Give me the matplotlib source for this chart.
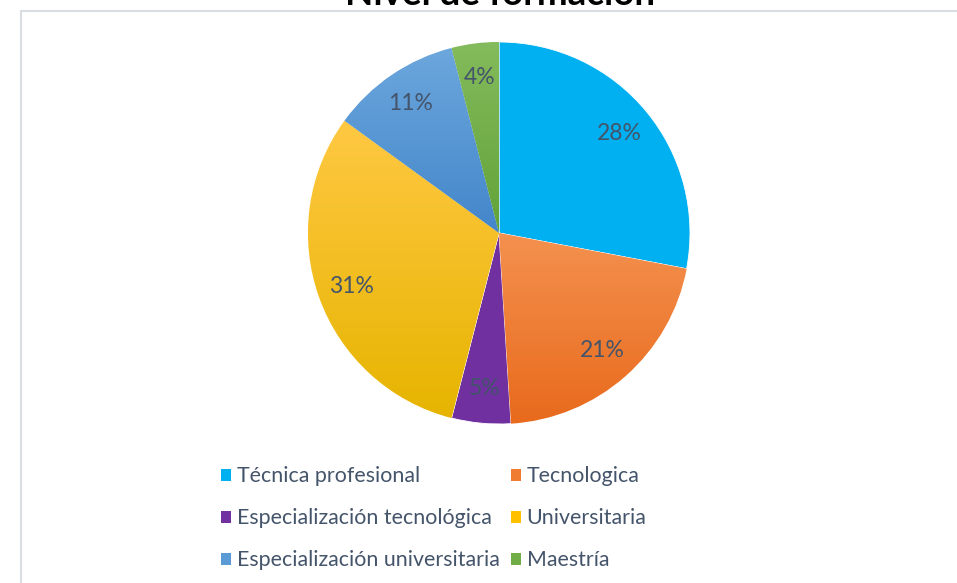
import matplotlib.pyplot as plt
import numpy as np
from matplotlib.patches import Patch, Rectangle
from matplotlib.colors import LinearSegmentedColormap

# data
categories = ['Técnica profesional', 'Tecnologica', 'Especialización tecnológica',
              'Universitaria', 'Especialización universitaria', 'Maestría']
values = [28, 21, 5, 31, 11, 4]
# (top colour, bottom colour) of each slice's vertical gradient
colors_top = ['#00B0F0', '#F4914F', '#7030A0', '#FFC843', '#6CA7DD', '#84BB5C']
colors_bot = ['#00B0F0', '#E86A1C', '#7030A0', '#E6B400', '#4386CA', '#62A238']
legend_colors = ['#00B0F0', '#F07C32', '#7030A0', '#FFC000', '#5B9BD5', '#70AD47']
title = 'Nivel de formación'

TEXT = '#44546A'
plt.rcParams['font.family'] = ['Lato', 'DejaVu Sans']

W, H = 957, 583
fig = plt.figure(figsize=(W / 100, H / 100), dpi=100)
fig.patch.set_facecolor('white')

# chart frame (only left/top edges visible in the crop)
fig.patches.append(Rectangle((21 / W, -0.1), 1.2, (H - 11) / H + 0.1, transform=fig.transFigure,
                             facecolor='none', edgecolor='#D9DEE5', linewidth=1.5))

# title sits mostly above the visible area, as in the source screenshot
fig.text(500 / W, 1 - 5 / H, title, ha='center', va='baseline',
         fontsize=26.5, fontweight='bold', color='black')

cx, cy, R = 499, 233, 191
ax = fig.add_axes([(cx - R) / W, (H - cy - R) / H, 2 * R / W, 2 * R / H])

wedges, texts, autotexts = ax.pie(values, startangle=90, counterclock=False,
                                  colors=legend_colors, autopct='%1.0f%%', pctdistance=0.82,
                                  wedgeprops=dict(edgecolor='white', linewidth=0.6),
                                  textprops=dict(color=TEXT, fontsize=16.5))

# vertical gradient fill inside each wedge
for w, ctop, cbot in zip(wedges, colors_top, colors_bot):
    if ctop == cbot:
        continue
    bb = w.get_path().get_extents()
    cmap = LinearSegmentedColormap.from_list('g', [cbot, ctop])
    grad = np.linspace(0, 1, 256).reshape(-1, 1)
    im = ax.imshow(grad, cmap=cmap, extent=[bb.x0, bb.x1, bb.y0, bb.y1],
                   origin='lower', aspect='auto', zorder=w.get_zorder() + 0.1)
    im.set_clip_path(w)
for t in autotexts:
    t.set_zorder(5)
ax.set_xlim(-1, 1)
ax.set_ylim(-1, 1)
ax.axis('off')

# legend is filled row by row in the original
order = [0, 2, 4, 1, 3, 5]
handles = [Patch(facecolor=legend_colors[i], edgecolor='none') for i in order]
labels = [categories[i] for i in order]
fig.legend(handles, labels, ncol=2, loc='upper left',
           bbox_to_anchor=(202 / W, 1 - 447 / H), frameon=False,
           fontsize=15.4, labelcolor=TEXT, handlelength=0.47, handleheight=0.47,
           handletextpad=0.25, labelspacing=1.03, columnspacing=0.55)

fig.savefig('out.png', dpi=100)
